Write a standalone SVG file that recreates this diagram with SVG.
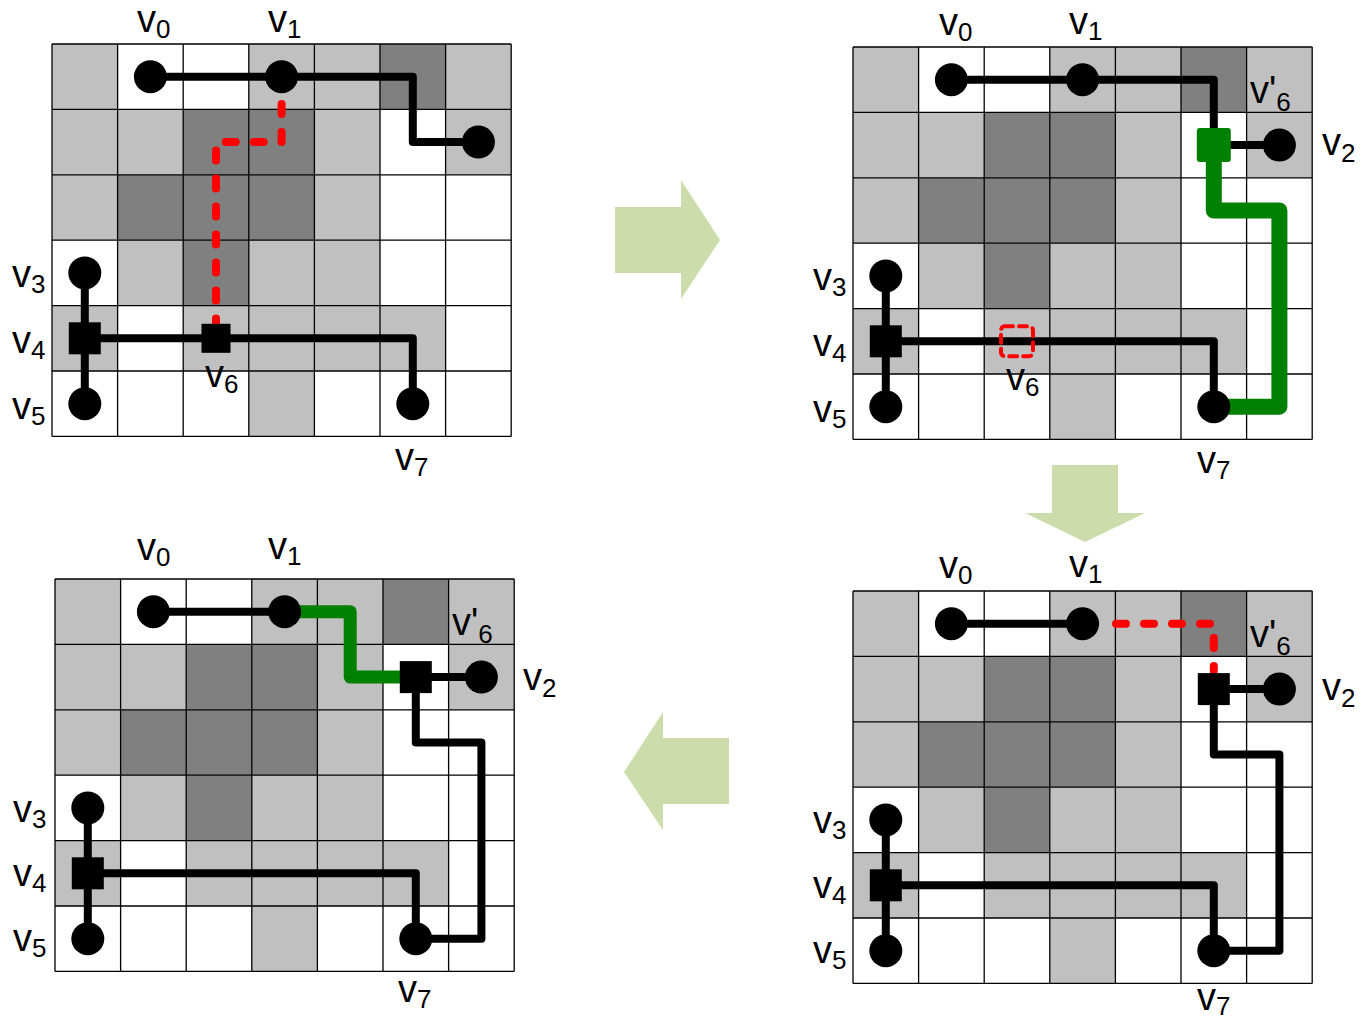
<svg xmlns="http://www.w3.org/2000/svg" xmlns:xlink="http://www.w3.org/1999/xlink" width="1362" height="1021" viewBox="0 0 1362 1021">
<style>
.L{fill:#C0C0C0}
.D{fill:#808080}
.gl{fill:none;stroke:#000;stroke-width:1.3}
.w{fill:none;stroke:#000;stroke-width:8;stroke-linejoin:round}
.gr{fill:none;stroke:#008000;stroke-linejoin:round;stroke-linecap:round}
.rd{fill:none;stroke:#FF0000;stroke-width:8;stroke-dasharray:10 18;stroke-linecap:round;stroke-linejoin:round}
.rr{fill:none;stroke:#FF0000;stroke-width:4;stroke-dasharray:8 6;stroke-linecap:round}
.pin{fill:#000}
.lbl{font-family:"Liberation Sans",Arial,sans-serif;font-size:38px;fill:#000}
.sub{font-size:26px}
.arrow{fill:#CCDCAA}
</style>
<defs>
<g id="grid">
<rect x="0" y="0" width="459.2" height="392.4" fill="#FFFFFF"/>
<g class="L">
<rect x="0" y="0" width="65.6" height="65.4"/>
<rect x="196.8" y="0" width="65.6" height="65.4"/>
<rect x="262.4" y="0" width="65.6" height="65.4"/>
<rect x="393.6" y="0" width="65.6" height="65.4"/>
<rect x="0" y="65.4" width="65.6" height="65.4"/>
<rect x="65.6" y="65.4" width="65.6" height="65.4"/>
<rect x="262.4" y="65.4" width="65.6" height="65.4"/>
<rect x="393.6" y="65.4" width="65.6" height="65.4"/>
<rect x="0" y="130.8" width="65.6" height="65.4"/>
<rect x="262.4" y="130.8" width="65.6" height="65.4"/>
<rect x="65.6" y="196.2" width="65.6" height="65.4"/>
<rect x="196.8" y="196.2" width="65.6" height="65.4"/>
<rect x="262.4" y="196.2" width="65.6" height="65.4"/>
<rect x="0" y="261.6" width="65.6" height="65.4"/>
<rect x="131.2" y="261.6" width="262.4" height="65.4"/>
<rect x="196.8" y="327" width="65.6" height="65.4"/>
</g>
<g class="D">
<rect x="328" y="0" width="65.6" height="65.4"/>
<rect x="131.2" y="65.4" width="131.2" height="65.4"/>
<rect x="65.6" y="130.8" width="196.8" height="65.4"/>
<rect x="131.2" y="196.2" width="65.6" height="65.4"/>
</g>
<path class="gl" d="M0,0V392.4M65.6,0V392.4M131.2,0V392.4M196.8,0V392.4M262.4,0V392.4M328,0V392.4M393.6,0V392.4M459.2,0V392.4M0,0H459.2M0,65.4H459.2M0,130.8H459.2M0,196.2H459.2M0,261.6H459.2M0,327H459.2M0,392.4H459.2"/>
</g>
</defs>

<!-- transition arrows -->
<g id="arrows">
<polygon id="arrow-right" class="arrow" points="615,207 681,207 681,180 720,240 681,299 681,273 615,273"/>
<polygon id="arrow-down" class="arrow" points="1052,465 1118,465 1118,513 1145,513 1085,542 1025,513 1052,513"/>
<polygon id="arrow-left" class="arrow" points="729,738 663,738 663,712 624,772 663,830 663,804 729,804"/>
</g>

<!-- Panel 1 -->
<g id="panel1" transform="translate(52,44)">
<use xlink:href="#grid" href="#grid"/>
<g id="p1-connectors">
<path class="w" d="M98.4,32.7H360.8V98.1H426.4"/>
<path class="w" d="M32.8,228.9V359.7"/>
<path class="w" d="M32.8,294.3H360.8V359.7"/>
<path class="rd" d="M229.6,60V98.1H164V280"/>
</g>
<g id="p1-v0"><circle class="pin" cx="98.4" cy="32.7" r="16.5"/><text class="lbl" x="85" y="-12">v<tspan class="sub" dy="6">0</tspan></text></g>
<g id="p1-v1"><circle class="pin" cx="229.6" cy="32.7" r="16.5"/><text class="lbl" x="216" y="-12">v<tspan class="sub" dy="6">1</tspan></text></g>
<g id="p1-v2"><circle class="pin" cx="426.4" cy="98.1" r="16.5"/></g>
<g id="p1-v3"><circle class="pin" cx="32.8" cy="228.9" r="16.5"/><text class="lbl" x="-40" y="243">v<tspan class="sub" dy="6">3</tspan></text></g>
<g id="p1-v4"><rect class="pin" x="16.8" y="278.3" width="32" height="32"/><text class="lbl" x="-40" y="309">v<tspan class="sub" dy="6">4</tspan></text></g>
<g id="p1-v5"><circle class="pin" cx="32.8" cy="359.7" r="16.5"/><text class="lbl" x="-40" y="375">v<tspan class="sub" dy="6">5</tspan></text></g>
<g id="p1-v6"><rect class="pin" x="149.5" y="279.8" width="29" height="29"/><text class="lbl" x="153" y="343">v<tspan class="sub" dy="6">6</tspan></text></g>
<g id="p1-v7"><circle class="pin" cx="360.8" cy="359.7" r="16.5"/><text class="lbl" x="343" y="426">v<tspan class="sub" dy="6">7</tspan></text></g>
</g>

<!-- Panel 2 -->
<g id="panel2" transform="translate(853,47)">
<use xlink:href="#grid" href="#grid"/>
<g id="p2-connectors">
<path class="w" d="M98.4,32.7H360.8V98.1H426.4"/>
<path class="w" d="M32.8,228.9V359.7"/>
<path class="w" d="M32.8,294.3H360.8V359.7"/>
<path class="gr" stroke-width="16" d="M360.8,98.1V163.5H426.4V359.7H360.8"/>
</g>
<g id="p2-v0"><circle class="pin" cx="98.4" cy="32.7" r="16.5"/><text class="lbl" x="86" y="-12">v<tspan class="sub" dy="6">0</tspan></text></g>
<g id="p2-v1"><circle class="pin" cx="229.6" cy="32.7" r="16.5"/><text class="lbl" x="216" y="-13">v<tspan class="sub" dy="6">1</tspan></text></g>
<g id="p2-v6p"><rect x="343.8" y="81.1" width="34" height="34" rx="3" fill="#008000"/><text class="lbl" x="397" y="56">v'<tspan class="sub" dy="8">6</tspan></text></g>
<g id="p2-v2"><circle class="pin" cx="426.4" cy="98.1" r="16.5"/><text class="lbl" x="469" y="108">v<tspan class="sub" dy="7">2</tspan></text></g>
<g id="p2-v3"><circle class="pin" cx="32.8" cy="228.9" r="16.5"/><text class="lbl" x="-40" y="243">v<tspan class="sub" dy="6">3</tspan></text></g>
<g id="p2-v4"><rect class="pin" x="16.8" y="278.3" width="32" height="32"/><text class="lbl" x="-40" y="309">v<tspan class="sub" dy="6">4</tspan></text></g>
<g id="p2-v5"><circle class="pin" cx="32.8" cy="359.7" r="16.5"/><text class="lbl" x="-40" y="375">v<tspan class="sub" dy="6">5</tspan></text></g>
<g id="p2-v6"><rect class="rr" x="148" y="279.3" width="32" height="30" rx="4"/><text class="lbl" x="153" y="343">v<tspan class="sub" dy="6">6</tspan></text></g>
<g id="p2-v7"><circle class="pin" cx="360.8" cy="359.7" r="16.5"/><text class="lbl" x="344" y="426">v<tspan class="sub" dy="6">7</tspan></text></g>
</g>

<!-- Panel 3 -->
<g id="panel3" transform="translate(853,591)">
<use xlink:href="#grid" href="#grid"/>
<g id="p3-connectors">
<path class="w" d="M98.4,32.7H229.6"/>
<path class="w" d="M360.8,98.1H426.4"/>
<path class="w" d="M360.8,98.1V163.5H426.4V359.7H360.8"/>
<path class="w" d="M32.8,228.9V359.7"/>
<path class="w" d="M32.8,294.3H360.8V359.7"/>
<path class="rd" d="M263,32.7H360.8V80"/>
</g>
<g id="p3-v0"><circle class="pin" cx="98.4" cy="32.7" r="16.5"/><text class="lbl" x="86" y="-13">v<tspan class="sub" dy="6">0</tspan></text></g>
<g id="p3-v1"><circle class="pin" cx="229.6" cy="32.7" r="16.5"/><text class="lbl" x="216" y="-14">v<tspan class="sub" dy="6">1</tspan></text></g>
<g id="p3-v6p"><rect class="pin" x="344.8" y="82.1" width="32" height="32"/><text class="lbl" x="397" y="56">v'<tspan class="sub" dy="8">6</tspan></text></g>
<g id="p3-v2"><circle class="pin" cx="426.4" cy="98.1" r="16.5"/><text class="lbl" x="469" y="109">v<tspan class="sub" dy="7">2</tspan></text></g>
<g id="p3-v3"><circle class="pin" cx="32.8" cy="228.9" r="16.5"/><text class="lbl" x="-40" y="242">v<tspan class="sub" dy="6">3</tspan></text></g>
<g id="p3-v4"><rect class="pin" x="16.8" y="278.3" width="32" height="32"/><text class="lbl" x="-40" y="307">v<tspan class="sub" dy="6">4</tspan></text></g>
<g id="p3-v5"><circle class="pin" cx="32.8" cy="359.7" r="16.5"/><text class="lbl" x="-40" y="372">v<tspan class="sub" dy="6">5</tspan></text></g>
<g id="p3-v7"><circle class="pin" cx="360.8" cy="359.7" r="16.5"/><text class="lbl" x="344" y="419">v<tspan class="sub" dy="5">7</tspan></text></g>
</g>

<!-- Panel 4 -->
<g id="panel4" transform="translate(55,579)">
<use xlink:href="#grid" href="#grid"/>
<g id="p4-connectors">
<path class="w" d="M98.4,32.7H229.6"/>
<path class="w" d="M360.8,98.1H426.4"/>
<path class="w" d="M360.8,98.1V163.5H426.4V359.7H360.8"/>
<path class="w" d="M32.8,228.9V359.7"/>
<path class="w" d="M32.8,294.3H360.8V359.7"/>
<path class="gr" stroke-width="13" d="M229.6,32.7H295.2V98.1H360.8"/>
</g>
<g id="p4-v0"><circle class="pin" cx="98.4" cy="32.7" r="16.5"/><text class="lbl" x="82" y="-19">v<tspan class="sub" dy="6">0</tspan></text></g>
<g id="p4-v1"><circle class="pin" cx="229.6" cy="32.7" r="16.5"/><text class="lbl" x="213" y="-20">v<tspan class="sub" dy="6">1</tspan></text></g>
<g id="p4-v6p"><rect class="pin" x="344.8" y="82.1" width="32" height="32"/><text class="lbl" x="397" y="56">v'<tspan class="sub" dy="8">6</tspan></text></g>
<g id="p4-v2"><circle class="pin" cx="426.4" cy="98.1" r="16.5"/><text class="lbl" x="468" y="111">v<tspan class="sub" dy="7">2</tspan></text></g>
<g id="p4-v3"><circle class="pin" cx="32.8" cy="228.9" r="16.5"/><text class="lbl" x="-42" y="243">v<tspan class="sub" dy="6">3</tspan></text></g>
<g id="p4-v4"><rect class="pin" x="16.8" y="278.3" width="32" height="32"/><text class="lbl" x="-42" y="307">v<tspan class="sub" dy="6">4</tspan></text></g>
<g id="p4-v5"><circle class="pin" cx="32.8" cy="359.7" r="16.5"/><text class="lbl" x="-42" y="372">v<tspan class="sub" dy="6">5</tspan></text></g>
<g id="p4-v7"><circle class="pin" cx="360.8" cy="359.7" r="16.5"/><text class="lbl" x="343" y="423">v<tspan class="sub" dy="6">7</tspan></text></g>
</g>
</svg>
